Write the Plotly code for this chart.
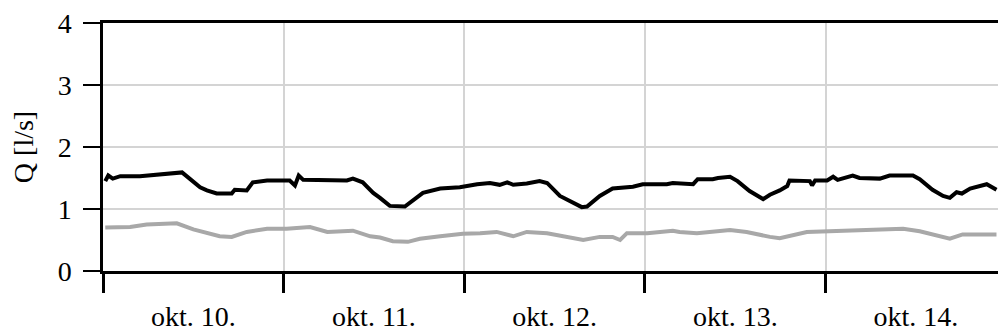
import pandas as pd
import plotly.graph_objects as go

# hours since okt. 10. 00:00
black_hours = [0.3, 0.7, 1.3, 2.3, 4.9, 8.9, 10.5, 12.9, 13.8, 15.1, 17.1, 17.5, 19.1, 19.9, 21.8,
               24.8, 25.5, 26.0, 26.6, 32.4, 33.2, 34.5, 35.9, 36.8, 38.1, 40.1, 41.2, 42.5, 44.8,
               47.4, 49.7, 51.4, 52.7, 53.7, 54.5, 56.3, 58.0, 59.0, 60.7, 62.3, 63.6, 64.3, 66.0,
               67.7, 70.4, 71.7, 74.9, 75.7, 78.4, 79.0, 81.0, 81.7, 83.3, 84.3, 85.9, 87.7, 88.6,
               89.9, 90.9, 91.2, 93.9, 94.2, 94.6, 96.2, 97.0, 97.6, 99.6, 100.5, 103.2, 104.5,
               107.6, 108.5, 110.2, 111.6, 112.5, 113.4, 114.1, 115.2, 117.4, 118.7]
black_q = [1.45, 1.54, 1.49, 1.53, 1.53, 1.57, 1.59, 1.35, 1.30, 1.25, 1.25, 1.31, 1.30, 1.43, 1.46,
           1.46, 1.38, 1.54, 1.47, 1.46, 1.49, 1.43, 1.26, 1.18, 1.05, 1.04, 1.15, 1.26, 1.33,
           1.35, 1.40, 1.42, 1.39, 1.43, 1.39, 1.41, 1.45, 1.42, 1.21, 1.11, 1.03, 1.04, 1.21,
           1.33, 1.36, 1.40, 1.40, 1.42, 1.40, 1.48, 1.48, 1.50, 1.52, 1.45, 1.29, 1.16, 1.23,
           1.30, 1.37, 1.46, 1.45, 1.38, 1.46, 1.46, 1.52, 1.47, 1.54, 1.50, 1.49, 1.54,
           1.54, 1.48, 1.31, 1.21, 1.18, 1.27, 1.25, 1.33, 1.40, 1.31]

grey_hours = [0.3, 3.6, 5.8, 9.8, 12.0, 13.8, 15.5, 17.1, 19.1, 21.8, 24.4, 27.5, 29.8, 33.2, 35.5,
              36.8, 38.5, 40.5, 42.1, 44.8, 47.8, 50.1, 52.3, 54.5, 56.3, 59.0, 61.6, 63.8, 66.0,
              67.7, 68.7, 69.6, 72.3, 75.7, 76.6, 78.9, 83.3, 85.5, 88.6, 89.9, 93.5, 96.2, 100.9,
              106.3, 108.5, 111.2, 112.5, 114.2, 118.7]
grey_q = [0.70, 0.71, 0.75, 0.77, 0.67, 0.62, 0.56, 0.55, 0.63, 0.68, 0.68, 0.71, 0.63, 0.65, 0.56,
          0.54, 0.48, 0.47, 0.52, 0.56, 0.60, 0.61, 0.63, 0.56, 0.63, 0.61, 0.55, 0.50, 0.55,
          0.55, 0.50, 0.61, 0.61, 0.65, 0.63, 0.61, 0.66, 0.63, 0.55, 0.53, 0.63, 0.64, 0.67,
          0.68, 0.64, 0.56, 0.52, 0.59, 0.59]

start = pd.Timestamp("2013-10-10 00:00")
x_end_hours = 118.9
y_ticks = [0, 1, 2, 3, 4]

bx = [start + pd.Timedelta(hours=h) for h in black_hours]
gx = [start + pd.Timedelta(hours=h) for h in grey_hours]

FONT = "'Liberation Serif', 'Times New Roman', serif"
FS = 28

fig = go.Figure()
fig.add_trace(go.Scatter(x=gx, y=grey_q, mode="lines",
                         line=dict(color="#a8a8a8", width=4), showlegend=False))
fig.add_trace(go.Scatter(x=bx, y=black_q, mode="lines",
                         line=dict(color="#000000", width=4), showlegend=False))

fig.update_layout(
    width=998, height=334,
    margin=dict(l=103, r=0, t=23, b=63),
    plot_bgcolor="white", paper_bgcolor="white",
    font=dict(family=FONT, size=FS, color="black"),
    xaxis=dict(
        type="date",
        range=[start, start + pd.Timedelta(hours=x_end_hours)],
        dtick=86400000, tick0=start,
        ticklabelmode="period", tickformat="okt. %d.",
        ticks="outside", ticklen=19, tickwidth=3, tickcolor="black",
        showgrid=True, gridcolor="#d4d4d4", gridwidth=1.5,
        showline=True, linecolor="black", linewidth=2.5, mirror=True,
        tickfont=dict(family=FONT, size=FS),
        zeroline=False,
    ),
    yaxis=dict(
        range=[0, 4], tickvals=y_ticks,
        ticks="outside", ticklen=17, tickwidth=2, tickcolor="black",
        showgrid=True, gridcolor="#d4d4d4", gridwidth=1.5,
        showline=True, linecolor="black", linewidth=2.5,
        zeroline=False,
        ticklabelstandoff=6,
        tickfont=dict(family=FONT, size=FS),
        title=dict(text="Q [l/s]", font=dict(family=FONT, size=FS), standoff=16),
    ),
)

fig.write_html("out.html")
